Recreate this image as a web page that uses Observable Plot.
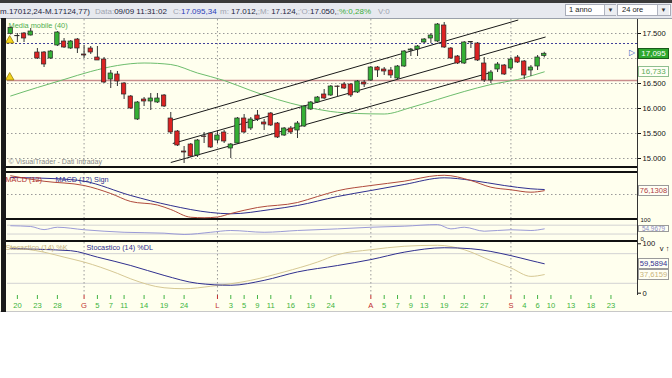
<!DOCTYPE html>
<html><head><meta charset="utf-8">
<script src="https://cdn.jsdelivr.net/npm/d3@7"></script>
<script src="https://cdn.jsdelivr.net/npm/@observablehq/plot@0.6"></script>
<style>
body{margin:0;background:#fff;}
#wrap{position:relative;width:672px;height:378px;overflow:hidden;font-family:"Liberation Sans",Arial,sans-serif;background:#fff;}
.abs{position:absolute;white-space:nowrap;}
.box{position:absolute;left:638px;width:31px;height:11px;line-height:11px;font-size:7.6px;text-align:center;box-sizing:border-box;border:1px solid #9a9a9a;background:#fffff4;overflow:hidden;}
</style></head><body><div id="wrap"></div>
<script>
// ---------- DATA ----------
const firstDay = "2013-05-17", lastDay = "2013-09-30";
const holidays = ["2013-08-15"];
// daily candles from 2013-05-17 to 2013-09-09 (FTSE MIB, index points)
const candleOpen = [17490,17450,17500,17460,17120,17120,17000,17260,17340,17200,17380,17080,17200,17020,16980,16580,16680,16500,16240,15780,16180,16140,16120,16260,15800,15540,15140,15280,15060,15440,15500,15360,15520,15200,15300,15800,15600,15860,15720,15900,15700,15460,15600,15560,15640,15980,16120,16280,16260,16440,16480,16480,16320,16520,16560,16820,16780,16760,16600,16840,17160,17180,17320,17400,17340,17660,17200,17040,16900,17330,17300,16900,16560,16780,16860,16800,17020,16940,16760,16840,17050];
const candleHigh = [17630,17500,17520,17600,17200,17140,17160,17540,17400,17360,17400,17260,17240,17240,17020,16760,16740,16520,16260,16140,16220,16300,16300,16280,15920,15560,15240,15300,15380,15520,15520,15560,15560,15300,15820,15880,15820,15960,15780,15920,15720,15620,15640,15740,16060,16140,16240,16380,16460,16450,16520,16500,16560,16560,16840,16840,16820,16820,16860,17160,17200,17260,17400,17500,17700,17720,17220,17060,17340,17340,17320,17020,16760,16920,16880,17020,17060,16960,16860,17060,17124];
const candleLow = [17470,17320,17320,17450,16980,16820,16980,17240,17200,17180,17100,17000,17080,16960,16500,16400,16440,16180,15980,15760,16040,15960,16100,16020,15480,15240,14900,15020,15020,15300,15200,15300,15300,15000,15280,15500,15560,15740,15560,15640,15400,15440,15480,15400,15620,15960,16100,16180,16240,16220,16380,16220,16300,16420,16540,16620,16660,16600,16580,16820,17040,17040,17300,17300,17320,17200,16980,16880,16880,17200,16940,16520,16500,16720,16660,16760,16900,16580,16640,16760,17012];
const candleClose = [17610,17445,17400,17540,17000,16880,17140,17520,17220,17340,17200,17060,17120,16960,16520,16700,16540,16280,16000,16120,16140,16200,16200,16040,15520,15260,15120,15040,15360,15430,15220,15460,15340,15280,15800,15520,15780,15780,15680,15660,15420,15600,15520,15700,16040,16120,16220,16200,16440,16430,16400,16260,16540,16480,16820,16760,16740,16660,16840,17140,17180,17240,17380,17460,17680,17220,17000,16900,17320,17320,16960,16560,16720,16880,16680,16980,16920,16660,16820,17020,17095];
// moving average (40), read at trading-day numbers
const maDay = [0,4,8,12,16,20,24,28,32,36,40,44,48,52,56,60,64,68,72,76,80];
const maValue = [16250,16420,16580,16740,16860,16910,16880,16710,16560,16360,16180,16040,15940,15900,15890,16020,16180,16340,16480,16580,16733];
// trend channel lines
const channelStartDay = [24.0, 24.3, 24.0];
const channelStartValue = [15760, 15300, 14920];
const channelEndDay = [76.1, 80.2, 72.0];
const channelEndValue = [17770, 17430, 16720];
const alertLevels = [17300, 16560];
const priceGrid = [15000, 15500, 16000, 16500, 17000, 17500];
const priceLabels = [15000, 15500, 16000, 16500, 17500];
// MACD
const macdDay = [0,5,11,15,18,22,24,27,29,31,33,37,43,46,49,54,59,64,65,69,72,75,78,80];
const macdValue = [375,265,180,20,-140,-210,-300,-455,-465,-450,-380,-260,-160,-40,75,180,266,380,385,280,146,94,46,76.1308];
const signalDay = [0,7,11,18,24,30,33,39,43,49,54,59,65,69,74,78,80];
const signalValue = [340,315,266,-20,-220,-360,-386,-300,-220,-40,80,200,334,285,180,114,100];
// RSI-type oscillator
const rsiDay = [0,3,5,7,11,17,23,26,30,33,38,43,49,54,59,64,66,68,71,75,78,80];
const rsiValue = [76,71,50,66,49,32,26,17,32,44,32,44,55,66,73,84,55,66,39,49,44,54.9679];
const oscBounds = [0, 100];
// Stochastic
const stochDDay = [0,9,13,18,23,28,33,38,43,49,54,59,65,69,75,78,80];
const stochDValue = [90,86,73,56,36,20,16,26,43,56,68,83,92,90,76,66,59.5894];
const stochKDay = [0,5,8,11,16,18,23,26,30,36,41,46,49,54,59,64,68,72,75,78,80];
const stochKValue = [93,83,73,63,40,29,11,9,14,26,43,63,78,88,95,97,88,66,51,34,37.6159];
// x axis ticks
const tickDates = ["2013-05-20","2013-05-23","2013-05-28","2013-06-03","2013-06-05","2013-06-07","2013-06-11","2013-06-14","2013-06-19","2013-06-24","2013-07-01","2013-07-03","2013-07-05","2013-07-09","2013-07-11","2013-07-16","2013-07-19","2013-07-24","2013-08-01","2013-08-05","2013-08-07","2013-08-09","2013-08-13","2013-08-19","2013-08-22","2013-08-27","2013-09-02","2013-09-04","2013-09-06","2013-09-10","2013-09-13","2013-09-18","2013-09-23"];
const tickLabels = ["20","23","28","G","5","7","11","14","19","24","L","3","5","9","11","16","19","24","A","5","7","9","13","19","22","27","S","4","6","10","13","18","23"];
const monthLetters = ["G","L","A","S"];

// ---------- BUILD ----------
const FONT = '"Liberation Sans", Arial, sans-serif';
const iso = d3.utcFormat("%Y-%m-%d");
const tradingDays = d3.utcDay.range(new Date(firstDay), d3.utcDay.offset(new Date(lastDay), 1))
  .filter(d => d.getUTCDay() > 0 && d.getUTCDay() < 6 && !holidays.includes(iso(d))).map(iso);
const dayOf = s => tradingDays.indexOf(s);
const dayDomain = [-0.48, 93.98];

const candles = candleOpen.map((o, i) => ({day: i, open: o, high: candleHigh[i], low: candleLow[i], close: candleClose[i]}));
const ma = maDay.map((d, i) => ({day: d, v: maValue[i]}));
const channel = channelStartDay.map((d, i) => ({d1: d, v1: channelStartValue[i], d2: channelEndDay[i], v2: channelEndValue[i]}));
const macd = macdDay.map((d, i) => ({day: d, v: macdValue[i]}));
const signal = signalDay.map((d, i) => ({day: d, v: signalValue[i]}));
const rsi = rsiDay.map((d, i) => ({day: d, v: rsiValue[i]}));
const stD = stochDDay.map((d, i) => ({day: d, v: stochDValue[i]}));
const stK = stochKDay.map((d, i) => ({day: d, v: stochKValue[i]}));
const xTicks = tickDates.map((s, i) => ({day: dayOf(s), label: tickLabels[i], month: monthLetters.includes(tickLabels[i])}));
const monthDays = xTicks.filter(t => t.month).map(t => t.day);

const itLocale = d3.formatLocale({decimal: ",", thousands: ".", grouping: [3], currency: ["", ""]});
const fmtPrice = itLocale.format(",.0f");
const fmtOsc = itLocale.format(".4f");
const fmt3 = v => itLocale.format(",.3f")(v / 1000);
const last = a => a[a.length - 1];

const wrap = document.getElementById("wrap");
function div(css, html) {
  const e = document.createElement("div");
  e.className = "abs"; e.style.cssText += css; if (html != null) e.innerHTML = html;
  wrap.appendChild(e); return e;
}

// chrome
div("left:0;top:0;width:672px;height:3px;background:#3a3a3a;");
div("left:0;top:3px;width:672px;height:15px;background:#e7e9ef;");
div("left:0;top:18px;width:672px;height:1px;background:#9aa0aa;");
div("left:0;top:19px;width:672px;height:292px;background:#ffffee;");
div("left:0;top:311px;width:672px;height:1px;background:#c8c8c8;");

const tb = "top:7px;font-size:8px;line-height:10px;";
const g = s => '<span style="color:#a0a4b0">' + s + '</span>';
div("left:0;" + tb + "color:#1e2540;", "m.17012,24-M.17124,77)");
div("left:95px;" + tb + "color:#1e2540;", g("Data:") + "09/09 11:31:02");
div("left:173px;" + tb + "color:#2a3cb8;", g("C:") + "17.095,34");
div("left:220px;" + tb + "color:#1e2540;", g("m:") + " 17.012," + g(";M:") + " 17.124," + g(";'O:") + "17.050," + g(";") + '<span style="color:#3cae3c">%:0,28%</span>');
div("left:378px;" + tb + "color:#a0a4b0;", "V:0");
div("left:565px;top:4px;width:51px;height:12px;background:#fff;border:1px solid #a8acb8;box-sizing:border-box;font-size:7.5px;line-height:10px;padding-left:3px;color:#222;", "1 anno");
div("left:604px;top:5px;width:11px;height:10px;background:#eceef2;border-left:1px solid #b0b4c0;font-size:6px;line-height:10px;text-align:center;color:#333;", "&#9660;");
div("left:617px;top:4px;width:54px;height:12px;background:#fff;border:1px solid #a8acb8;box-sizing:border-box;font-size:7.5px;line-height:10px;padding-left:4px;color:#222;", "24 ore");
div("left:657px;top:5px;width:11px;height:10px;background:#eceef2;border-left:1px solid #b0b4c0;font-size:6px;line-height:10px;text-align:center;color:#333;", "&#9660;");

function addPanel(top, height, yDomain, marks) {
  const p = Plot.plot({
    width: 672, height, marginLeft: 7, marginRight: 35, marginTop: 0, marginBottom: 0,
    x: {domain: dayDomain, axis: null},
    y: {domain: yDomain, axis: null},
    style: {background: "transparent", overflow: "visible", fontFamily: FONT},
    marks
  });
  p.style.position = "absolute"; p.style.left = "0px"; p.style.top = top + "px";
  wrap.appendChild(p);
  return p;
}
function valueBox(plot, top, v, text, css, h) {
  h = h || 11;
  const y = top + plot.scale("y").apply(v);
  const e = document.createElement("div");
  e.className = "box"; e.style.top = (y - h / 2) + "px"; e.style.height = h + "px"; e.style.lineHeight = (h - 2) + "px";
  e.style.cssText += css || "";
  e.textContent = text; wrap.appendChild(e); return e;
}
const grid = {stroke: "#9a9a9a", strokeDasharray: "1.5,2.5", strokeWidth: 1};
const axisOpts = (ticks, fmt, fs) => Plot.axisY(ticks, {anchor: "right", tickSize: 3, tickPadding: 2, fontSize: fs || 7.6, tickFormat: fmt, color: "#111"});

// main price panel
const MAIN_TOP = 19;
const main = addPanel(MAIN_TOP, 147, [14840, 17780], [
  Plot.ruleY(priceGrid, grid),
  Plot.ruleX(monthDays, grid),
  Plot.ruleY([alertLevels[0]], {stroke: "#40409a", strokeDasharray: "2,2", strokeWidth: 1}),
  Plot.ruleY([alertLevels[1]], {stroke: "#c98c8c", strokeWidth: 1.6}),
  Plot.text(["Media mobile (40)"], {frameAnchor: "top-left", dx: 1, dy: 3.5, lineAnchor: "top", textAnchor: "start", fill: "#4fae4f", fontSize: 7.4}),
  Plot.text(["© VisualTrader - Dati Intraday"], {frameAnchor: "bottom-left", dx: 1, dy: -4.5, lineAnchor: "middle", textAnchor: "start", fill: "#8a8a8a", fontSize: 7.1}),
  Plot.line(ma, {x: "day", y: "v", stroke: "#6dbd6d", strokeWidth: 1, curve: "monotone-x"}),
  Plot.link(channel, {x1: "d1", y1: "v1", x2: "d2", y2: "v2", stroke: "#1a1a1a", strokeWidth: 1}),
  Plot.ruleX(candles, {x: "day", y1: "low", y2: "high", stroke: "#333", strokeWidth: 1}),
  Plot.rect(candles, {x1: d => d.day - 0.33, x2: d => d.day + 0.33, y1: "open", y2: "close",
    fill: d => d.close >= d.open ? "#34b034" : "#dc2222", stroke: "#2a2a2a", strokeWidth: 0.7}),
  Plot.dot(alertLevels.map(v => ({day: 0, v})), {x: "day", y: "v", symbol: "triangle", r: 3.2, fill: "#f2d21c", stroke: "#8a7400", strokeWidth: 0.7, dx: -1, dy: -3}),
  axisOpts(priceLabels, fmtPrice)
]);
valueBox(main, MAIN_TOP, last(candleClose), fmt3(last(candleClose)), "background:#2ea82e;color:#fff;border-color:#1a5a1a;font-size:8px;");
valueBox(main, MAIN_TOP, last(maValue), fmt3(last(maValue)), "color:#5aae5a;border-color:#8fbf8f;font-size:8px;");
div("left:629px;top:" + (MAIN_TOP + main.scale("y").apply(last(candleClose)) - 6) + "px;font-size:8px;line-height:12px;color:#3050c0;", "&#9655;");

// separators / axis line
div("left:6px;top:166px;width:631px;height:2px;background:#111;");
div("left:6px;top:171px;width:631px;height:2px;background:#111;");
div("left:6px;top:218px;width:631px;height:2px;background:#111;");
div("left:6px;top:240px;width:631px;height:2px;background:#111;");
div("left:637px;top:19px;width:1px;height:276px;background:#333;");

// MACD panel
const MACD_TOP = 173;
const macdP = addPanel(MACD_TOP, 45, [-480, 420], [
  Plot.ruleY([0], grid),
  Plot.ruleX(monthDays, grid),
  Plot.line(signal, {x: "day", y: "v", stroke: "#30308f", strokeWidth: 1, curve: "monotone-x"}),
  Plot.line(macd, {x: "day", y: "v", stroke: "#b04a3c", strokeWidth: 1, curve: "monotone-x"}),
  Plot.text(["MACD (12)"], {frameAnchor: "top-left", dx: -2, dy: 6.5, lineAnchor: "middle", textAnchor: "start", fill: "#b03030", fontSize: 7.3}),
  Plot.text(["MACD (12) Sign"], {frameAnchor: "top-left", dx: 48, dy: 6.5, lineAnchor: "middle", textAnchor: "start", fill: "#2e2e8f", fontSize: 7.3})
]);
valueBox(macdP, MACD_TOP, last(macdValue), fmtOsc(last(macdValue)), "color:#b04040;");

// RSI panel
const RSI_TOP = 220;
const rsiP = addPanel(RSI_TOP, 20, [-23.6, 111.5], [
  Plot.ruleY([20, 80], {stroke: "#d2d2d2", strokeWidth: 1}),
  Plot.ruleX(monthDays, grid),
  Plot.line(rsi, {x: "day", y: "v", stroke: "#9a9ad6", strokeWidth: 1, curve: "monotone-x"}),
  Plot.text([oscBounds[1]], {y: d => d, text: d => String(d), frameAnchor: "right", dx: 3, textAnchor: "start", lineAnchor: "bottom", fontSize: 6, fill: "#111"}),
  Plot.text([oscBounds[0]], {y: d => d, text: d => String(d), frameAnchor: "right", dx: 3, textAnchor: "start", lineAnchor: "top", fontSize: 6, fill: "#111"})
]);
valueBox(rsiP, RSI_TOP, last(rsiValue), fmtOsc(last(rsiValue)), "color:#8c8cc4;font-size:6.4px;", 7);

// Stochastic panel
const ST_TOP = 242;
const stP = addPanel(ST_TOP, 53, [-4.7, 102.6], [
  Plot.ruleY([20, 80], {stroke: "#d2d2d2", strokeWidth: 1}),
  Plot.ruleX(monthDays, grid),
  Plot.line(stK, {x: "day", y: "v", stroke: "#d6c894", strokeWidth: 1, curve: "monotone-x"}),
  Plot.line(stD, {x: "day", y: "v", stroke: "#30308f", strokeWidth: 1, curve: "monotone-x"}),
  Plot.text(["Stocastico (14) %K"], {frameAnchor: "top-left", dx: -2, dy: 5, lineAnchor: "middle", textAnchor: "start", fill: "#c4b27a", fontSize: 7.3}),
  Plot.text(["Stocastico (14) %DL"], {frameAnchor: "top-left", dx: 79, dy: 5, lineAnchor: "middle", textAnchor: "start", fill: "#2e2e8f", fontSize: 7.3}),
  axisOpts(oscBounds, d => d)
]);
valueBox(stP, ST_TOP, last(stochDValue), fmtOsc(last(stochDValue)), "color:#30308f;");
valueBox(stP, ST_TOP, last(stochKValue), fmtOsc(last(stochKValue)), "color:#c8b47a;");

// x axis row
addPanel(295, 16, [0, 1], [
  Plot.tickX(xTicks, {x: "day", stroke: d => d.month ? "#c03030" : "#44b444", insetBottom: 12, strokeWidth: 1}),
  Plot.text(xTicks, {x: "day", text: "label", frameAnchor: "middle", dy: 1.8, lineAnchor: "middle", fill: d => d.month ? "#c03030" : "#3cb43c", fontSize: 7.6})
]);

// left border
div("left:1px;top:18px;width:5px;height:294px;background:#1a1a1a;");
</script></body></html>
